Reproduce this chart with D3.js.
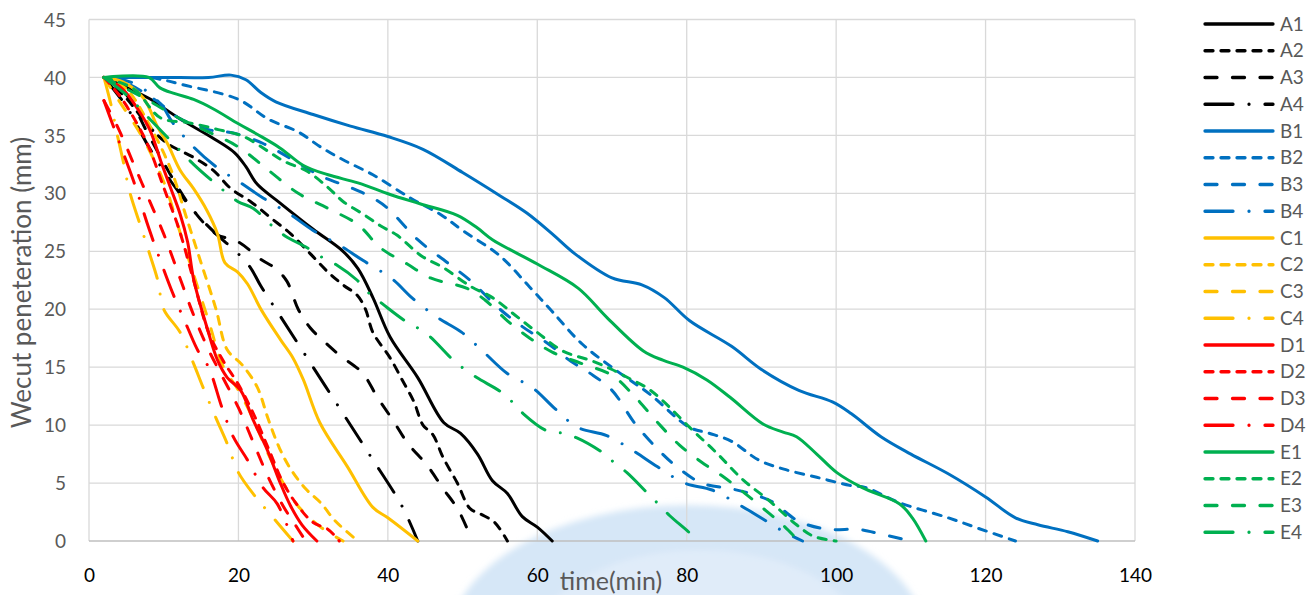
<!DOCTYPE html>
<html>
<head>
<meta charset="utf-8">
<script src="https://cdn.jsdelivr.net/npm/d3@7"></script>
<style>
  html, body { margin: 0; padding: 0; background: #ffffff; }
  svg { display: block; font-family: Lato, "Open Sans", sans-serif; }
</style>
</head>
<body>
<svg id="chart" width="1314" height="595"></svg>
<script>
// Axis ticks
const xTicks = [0, 20, 40, 60, 80, 100, 120, 140];
const yTicks = [0, 5, 10, 15, 20, 25, 30, 35, 40, 45];

// Series names, in drawing / legend order
const seriesNames = ["A1","A2","A3","A4","B1","B2","B3","B4","C1","C2","C3","C4",
                     "D1","D2","D3","D4","E1","E2","E3","E4"];

// Penetration curves: [time (min), penetration (mm)]
const A1 = [[2,40],[4.5,39.3],[8,38.2],[12,36.5],[16.5,34.8],[19.5,33.5],[21,32.3],[22.5,30.8],[25.5,29.2],[30,26.9],[34,25],[36,23.5],[38,21],[40.3,17.6],[44,14.1],[47.5,10.2],[49.7,9.3],[52,7.5],[54,5.2],[56,4.1],[58,2.1],[60,1.2],[62,0]];
const A2 = [[2,40],[5,38.2],[8,35.8],[10.5,34.3],[14,33.1],[16.6,32],[19,30.4],[21.6,29.3],[24.3,27.9],[27,26.5],[29.6,24.8],[32,23.2],[34,22.1],[35.9,21.2],[37,20],[38,18],[40.3,15.8],[42,13.8],[43.5,12],[44.7,10],[46,9.2],[47.4,7.2],[49.3,5],[51,2.8],[52.5,2.3],[54.3,1.6],[56,0]];
const A3 = [[2,40],[5,38.5],[8,35],[11,31.5],[14,28.5],[17,26.5],[20,25.8],[23,24.3],[25,23.5],[26.5,22.4],[28,20],[29.6,18.4],[31.5,17.2],[33.6,16],[36.6,14.5],[38.6,12.4],[40.7,10.4],[42.7,8.4],[45.3,6.5],[47.3,4.6],[49.4,2.7],[51.3,0]];
const A4 = [[2,40],[5,37.5],[8,34],[11,31],[14,28.5],[17,26.5],[19.8,24.9],[21.6,23.6],[23,22],[25.6,19.4],[28.8,16.2],[33.2,11.8],[37.5,7.5],[41.9,3],[44,0]];

const B1 = [[2,40],[10,40],[16,40],[19,40.2],[21,39.8],[23,38.7],[25,37.9],[30,36.8],[35,35.8],[40,34.9],[44.7,33.8],[50,31.8],[55,29.8],[58.6,28.3],[62,26.5],[65,24.8],[70,22.7],[74,22.1],[77,21],[80.4,19],[86,16.8],[90,14.8],[95,13],[99.5,12],[102,11],[106,9],[110,7.5],[115,5.8],[120,3.8],[124,2],[127,1.4],[131,0.8],[135,0]];
const B2 = [[2,40],[8,40],[13,39.3],[20,38.1],[24,36.4],[28,35.3],[31,34],[34,32.9],[38,31.6],[43,29.6],[47,28.2],[50,26.8],[55,24.6],[59,21.9],[62,19.8],[66,17],[70.6,14.7],[75,12.7],[80.4,9.8],[83,9.3],[86,8.6],[89.6,7],[93,6.2],[97.4,5.5],[101.8,4.8],[104,4.6],[108.5,3.3],[115,2],[119,1.1],[124,0]];
const B3 = [[2,40],[5,39.5],[9,38],[12,36.5],[16,35.5],[19.3,35.2],[23.3,34.3],[27,33],[31,31.5],[35,30.5],[38,29.6],[40,28.7],[44,26],[48,24],[51,22.5],[55,20],[58,18.5],[61.5,17],[64.5,15.5],[67,14.5],[70,13],[73,10.2],[76,8],[78.5,6.5],[82,5],[86,4.5],[89,4],[91.4,3.4],[95,1.7],[99,1],[103,1],[106,0.6],[110,0]];
const B4 = [[2,40],[6,39.5],[9.6,37.7],[11.2,36.1],[14,34],[17,32.3],[20.3,30.9],[23.3,29.6],[26.9,28.2],[30,26.8],[33.6,25.5],[36.7,24.2],[40.6,22.6],[43.2,21],[46.6,19.3],[49.9,18],[53,16.2],[55.9,14.5],[59.4,13.2],[62.4,11.4],[65.4,9.8],[69.3,9.1],[72.8,7.8],[76.1,6.4],[79.7,5],[83.4,4.4],[87.1,3.1],[90.2,1.9],[93,0.8],[95.5,0]];

const C1 = [[2,40],[4.6,39.6],[7.3,38.2],[9.2,35.7],[10.5,34.3],[12.2,32],[14,30.4],[15.8,28.5],[17.2,26.5],[18.2,24],[19.9,23.2],[21.2,22.2],[23.1,19.9],[25.6,17.4],[27.3,15.8],[28.7,13.9],[30.9,10.2],[34.6,6.4],[38,2.9],[40,2],[44,0]];
const C2 = [[2,40],[5,39],[8,36],[11,32],[13,28],[15,24],[17,20],[18.5,16.5],[20.5,15.2],[22.5,13.3],[24,10.5],[25.5,8],[27,6.2],[29,4.5],[31,3.3],[33,1.7],[36,0]];
const C3 = [[2,40],[4,38],[7,35],[10,31],[12,27],[14,23],[16,19],[18,15],[20,13],[22,10.5],[24,7.5],[26,5],[28,3],[31,1.2],[34,0]];
const C4 = [[2,40],[3,37.5],[3.8,35],[4.5,33],[5.5,30],[7,27],[8,25],[9.2,22.5],[10,20],[12.2,18],[14,15.3],[15.3,13.2],[17,10.6],[18.5,8.4],[20,5.9],[22.3,3.8],[24,2.5],[27.3,0]];

const D1 = [[2,40],[4.5,39],[6.5,37.3],[8.2,35.4],[9.6,32.8],[10.9,30.5],[12.2,28.2],[13.2,25.8],[14,22.6],[15.8,18.4],[17.2,15.6],[18.5,14.1],[20.3,13],[22,10.4],[23.9,7.8],[25.6,5],[27,3],[28.5,1.4],[30.5,0]];
const D2 = [[2,40],[4,38.5],[6,36.5],[8,34],[10,30.5],[12,27],[14,22.5],[16,18],[18,15.5],[20,13.5],[22,11],[24,8],[26,5],[28,3],[30,1.6],[32,1],[33.5,0]];
const D3 = [[2,38],[4,35.5],[6,32.5],[8,29.5],[10,26.5],[12,23],[14,19.5],[16,16.5],[18,14],[20,11.5],[22,8.5],[24,5.5],[26,3],[27.5,1.5],[29,0]];
const D4 = [[2,38],[4,34.5],[6,31],[8,27],[9.5,24.3],[11.2,21.4],[13.2,18.4],[14.6,16.4],[16,15],[17.8,11.5],[19.3,9],[21.2,7],[23.3,4.6],[25.2,3.2],[27.3,0]];

const E1 = [[2,40],[8,40],[9.5,39.1],[11.5,38.6],[14,38.1],[16.6,37.3],[20,36],[22.5,35.1],[25.6,33.9],[28.7,32.4],[32,31.6],[36,30.9],[40.3,29.9],[44.3,29.1],[49.3,28.1],[52,27],[54,26],[60,23.9],[65.5,21.8],[69.3,19.3],[74.2,16.4],[76.8,15.6],[79.5,15],[82.7,13.9],[85.8,12.4],[90.2,10.1],[92.9,9.4],[94.7,9],[97.4,7.5],[100.1,5.9],[103.5,4.6],[108.5,3.2],[110.2,2],[112,0]];
const E2 = [[2,40],[6,39],[9.6,36.5],[13.3,36.1],[17.3,35.5],[20.7,34.9],[23.8,33.7],[26,32.8],[29.2,31.9],[32,30.5],[34,29.3],[36.7,28.2],[39,27.2],[41.2,26.4],[44.5,24.6],[47.4,23.6],[51,22],[54,21],[57,19.5],[60,18],[63.4,16.4],[67.5,15.5],[70,14.8],[72.4,14],[74.7,13.2],[76.8,12.1],[80.4,9.8],[84,7.6],[87.5,5.3],[91,3.5],[94.7,1.4],[97,0.4],[100,0]];
const E3 = [[2,40],[8,38],[12,36.5],[16,35.3],[20,34],[24,32],[28,30],[32,28.7],[36,27.3],[39,25.3],[42.6,23.9],[45.7,22.7],[50.6,21.8],[53,20.8],[56,19],[59,17.5],[62,16.3],[66,15.3],[70,14.3],[73,12.5],[76,10.3],[79,8.3],[82,6.8],[85,5.5],[88,4],[91,2.4],[93,1.3],[95,0]];
const E4 = [[2,40],[5,38.5],[8,36.5],[11,34.5],[14,32.5],[17,30.8],[19.9,29.3],[22,28.7],[24.5,27.2],[26.3,26.3],[29.2,25.3],[31.4,24.4],[33.2,23.8],[35.9,22.5],[37.6,21.3],[39.2,20.5],[42.3,19],[44.2,18.3],[45.7,17.6],[48.6,15.7],[50.1,14.9],[51.9,14.1],[55.3,12.8],[56.8,11.9],[58.1,11],[61.3,9.5],[63.4,9.3],[65.3,8.9],[68.8,7.6],[70.4,6.7],[72,5.9],[74.8,4.1],[76.2,3.2],[77.7,2.2],[80.7,0.5],[81.3,0]];

const seriesData = {A1,A2,A3,A4,B1,B2,B3,B4,C1,C2,C3,C4,D1,D2,D3,D4,E1,E2,E3,E4};

// Colour per mix group, dash pattern per replicate
const groupColors = { A: "#000000", B: "#0070C0", C: "#FFC000", D: "#FF0000", E: "#00B050" };
const replicateDash = { "1": null, "2": "8,8", "3": "12,15.5", "4": "28,16,0.01,16" };

const svg = d3.select("#chart");
const plot = { left: 89, right: 1135, top: 19.5, bottom: 541 };

const x = d3.scaleLinear().domain([0, 140]).range([plot.left, plot.right]);
const y = d3.scaleLinear().domain([0, 45]).range([plot.bottom, plot.top]);

// Faint institutional watermark behind the lower part of the chart
const defs = svg.append("defs");
defs.append("filter").attr("id", "soft")
  .append("feGaussianBlur").attr("stdDeviation", 3);
const wm = svg.append("g").attr("filter", "url(#soft)");
wm.append("ellipse").attr("cx", 688).attr("cy", 645).attr("rx", 240).attr("ry", 140)
  .attr("fill", "#cfe3f6").attr("opacity", 0.85);
wm.append("ellipse").attr("cx", 700).attr("cy", 660).attr("rx", 175).attr("ry", 110)
  .attr("fill", "#e3eefa").attr("opacity", 0.8);

// Gridlines
const grid = svg.append("g");
grid.selectAll("line.h").data(yTicks.filter(d => d > 0)).join("line")
  .attr("x1", plot.left).attr("x2", plot.right)
  .attr("y1", d => y(d)).attr("y2", d => y(d))
  .attr("stroke", "#d9d9d9").attr("stroke-width", 1.3);
grid.selectAll("line.v").data(xTicks).join("line")
  .attr("y1", plot.top).attr("y2", plot.bottom)
  .attr("x1", d => x(d)).attr("x2", d => x(d))
  .attr("stroke", "#d9d9d9").attr("stroke-width", 1.3);

// Bottom axis line
svg.append("line")
  .attr("x1", plot.left).attr("x2", plot.right)
  .attr("y1", y(0)).attr("y2", y(0))
  .attr("stroke", "#bfbfbf").attr("stroke-width", 1.6);

// Axes (labels only, no tick marks)
const xAxis = svg.append("g")
  .attr("transform", `translate(0,${plot.bottom})`)
  .call(d3.axisBottom(x).tickValues(xTicks).tickSize(0).tickPadding(0));
xAxis.select(".domain").remove();
xAxis.selectAll("text")
  .attr("y", 41).attr("dy", null)
  .attr("font-size", 19).attr("font-family", "Lato, 'Open Sans', sans-serif")
  .attr("fill", "#000000");

const yAxis = svg.append("g")
  .attr("transform", `translate(66,0)`)
  .call(d3.axisLeft(y).tickValues(yTicks).tickSize(0).tickPadding(0));
yAxis.select(".domain").remove();
yAxis.selectAll("text")
  .attr("x", 0).attr("dy", "0.35em")
  .attr("font-size", 19).attr("font-family", "Lato, 'Open Sans', sans-serif")
  .attr("fill", "#595959");

// Axis titles
svg.append("text")
  .attr("transform", `translate(31,${(113 + 452) / 2}) rotate(-90)`)
  .attr("text-anchor", "middle")
  .attr("font-size", 26).attr("fill", "#595959")
  .text("Wecut peneteration (mm)");
svg.append("text")
  .attr("x", 611).attr("y", 590)
  .attr("text-anchor", "middle")
  .attr("font-size", 25).attr("fill", "#595959")
  .text("time(min)");

// Curves
const line = d3.line()
  .x(d => x(d[0]))
  .y(d => y(d[1]))
  .curve(d3.curveCatmullRom.alpha(0.5));

const lines = svg.append("g").attr("fill", "none");
seriesNames.forEach(name => {
  lines.append("path")
    .datum(seriesData[name])
    .attr("d", line)
    .attr("stroke", groupColors[name[0]])
    .attr("stroke-width", 3)
    .attr("stroke-linecap", "round")
    .attr("stroke-linejoin", "round")
    .attr("stroke-dasharray", replicateDash[name[1]]);
});

// Legend
const legend = svg.append("g");
const rowH = 26.75;
seriesNames.forEach((name, i) => {
  const yy = 24 + i * rowH;
  legend.append("line")
    .attr("x1", 1205).attr("x2", 1273)
    .attr("y1", yy).attr("y2", yy)
    .attr("stroke", groupColors[name[0]])
    .attr("stroke-width", 3.3)
    .attr("stroke-linecap", "round")
    .attr("stroke-dasharray", replicateDash[name[1]]);
  legend.append("text")
    .attr("x", 1280).attr("y", yy).attr("dy", "0.35em")
    .attr("font-size", 19).attr("fill", "#595959")
    .text(name);
});
</script>
</body>
</html>
